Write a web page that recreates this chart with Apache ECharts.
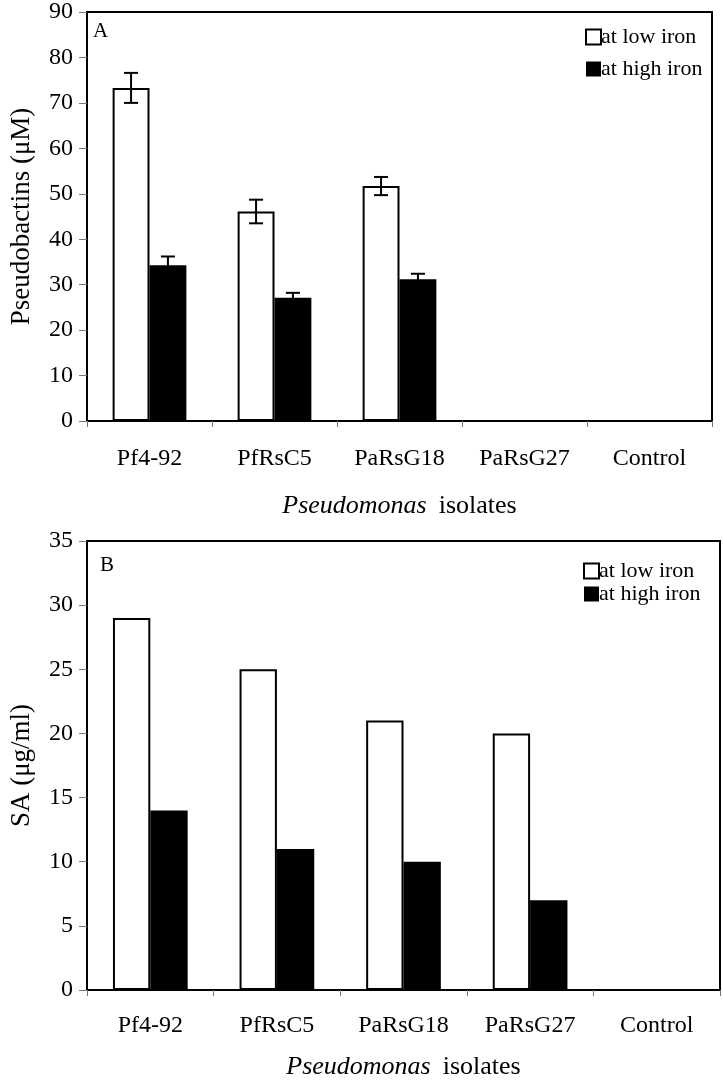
<!DOCTYPE html>
<html><head><meta charset="utf-8">
<script src="https://cdn.jsdelivr.net/npm/echarts@6/dist/echarts.min.js"></script>
<style>html,body{margin:0;padding:0;background:#fff}#c{width:723px;height:1081px}</style>
</head><body><div id="c"></div>
<script>
const categories = ['Pf4-92', 'PfRsC5', 'PaRsG18', 'PaRsG27', 'Control'];
const seriesNames = ['at low iron', 'at high iron'];
// Panel A: Pseudobactins (µM)
const pbLow = [73.3, 46.1, 51.7, 0, 0];
const pbLowErr = [3.3, 2.6, 2.0, 0, 0];
const pbHigh = [34.3, 27.1, 31.2, 0, 0];
const pbHighErr = [1.9, 1.1, 1.2, 0, 0];
// Panel B: SA (µg/ml)
const saLow = [29, 25, 21, 20, 0];
const saHigh = [14, 11, 10, 7, 0];

const FONT = '"Liberation Serif", "Times New Roman", serif';
const BARW = 0.295;

const chart = echarts.init(document.getElementById('c'), null, {renderer: 'canvas'});

function errSeries(vals, errs, xi, yi, side) {
  return {
    type: 'custom', xAxisIndex: xi, yAxisIndex: yi, z: 10, silent: true,
    data: vals.map((v, i) => [i, v, errs[i]]),
    renderItem: function (params, api) {
      const i = api.value(0), v = api.value(1), e = api.value(2);
      if (!e) return null;
      const cw = api.size([1, 0])[0];
      const off = side * cw * BARW / 2;
      const top = api.coord([i, v + e]);
      const bot = api.coord([i, v - e]);
      const x = top[0] + off;
      const cap = 7;
      const st = {stroke: '#000', lineWidth: 2};
      return {type: 'group', children: [
        {type: 'line', shape: {x1: x, y1: top[1], x2: x, y2: bot[1]}, style: st},
        {type: 'line', shape: {x1: x - cap, y1: top[1], x2: x + cap, y2: top[1]}, style: st},
        {type: 'line', shape: {x1: x - cap, y1: bot[1], x2: x + cap, y2: bot[1]}, style: st}
      ]};
    }
  };
}

function xAx(gi, margin, gap) {
  return {
    type: 'category', gridIndex: gi, data: categories,
    axisLine: {lineStyle: {color: '#000', width: 2}},
    axisTick: {show: true, length: 6, lineStyle: {color: '#777', width: 1}},
    axisLabel: {color: '#000', fontFamily: FONT, fontSize: 24, margin: margin},
    name: '{i|Pseudomonas}{s| }{n|isolates}',
    nameLocation: 'middle', nameGap: gap,
    nameTextStyle: {rich: {
      i: {fontFamily: FONT, fontSize: 26, fontStyle: 'italic', color: '#000'},
      s: {fontFamily: FONT, fontSize: 26, width: 12},
      n: {fontFamily: FONT, fontSize: 26, color: '#000'}
    }}
  };
}
function yAx(gi, max, interval, name) {
  return {
    type: 'value', gridIndex: gi, min: 0, max: max, interval: interval,
    splitLine: {show: false},
    axisLine: {show: true, lineStyle: {color: '#000', width: 2}},
    axisTick: {show: true, length: 8, lineStyle: {color: '#777', width: 1}},
    axisLabel: {color: '#000', fontFamily: FONT, fontSize: 24, margin: 14},
    name: name, nameLocation: 'middle', nameGap: 52,
    nameTextStyle: {fontFamily: FONT, fontSize: 27, color: '#000'}
  };
}

const lowStyle = {color: '#fff', borderColor: '#000', borderWidth: 2};
const highStyle = {color: '#000', borderColor: '#000', borderWidth: 0};

chart.setOption({
  animation: false,
  backgroundColor: '#fff',
  grid: [
    {left: 84, right: 11, top: 12, height: 409, show: true, borderColor: '#000', borderWidth: 2, backgroundColor: 'transparent'},
    {left: 87, right: 3, top: 541, height: 453, show: true, borderColor: '#000', borderWidth: 2, backgroundColor: 'transparent'}
  ],
  legend: [
    {orient: 'vertical', left: 580, top: 21, itemWidth: 15, itemHeight: 15, itemGap: 10, icon: 'rect',
     textStyle: {fontFamily: FONT, fontSize: 22, color: '#000', padding: [0, 0, 0, -5]}, data: seriesNames},
    {orient: 'vertical', left: 578, top: 555, itemWidth: 15, itemHeight: 15, itemGap: 1, icon: 'rect',
     textStyle: {fontFamily: FONT, fontSize: 22, color: '#000', padding: [0, 0, 0, -5]}, data: seriesNames}
  ],
  graphic: [
    {type: 'text', left: 93, top: 21, style: {text: 'A', font: '21px ' + FONT, fill: '#000'}},
    {type: 'text', left: 100, top: 555, style: {text: 'B', font: '21px ' + FONT, fill: '#000'}}
  ],
  xAxis: [xAx(0, 26, 72), xAx(1, 24, 64)],
  yAxis: [yAx(0, 90, 10, 'Pseudobactins (μM)'), yAx(1, 35, 5, 'SA (μg/ml)')],
  series: [
    {name: seriesNames[0], type: 'bar', xAxisIndex: 0, yAxisIndex: 0, data: pbLow, barWidth: (BARW * 100) + '%', barGap: '0%', itemStyle: lowStyle},
    {name: seriesNames[1], type: 'bar', xAxisIndex: 0, yAxisIndex: 0, data: pbHigh, barWidth: (BARW * 100) + '%', barGap: '0%', itemStyle: highStyle},
    errSeries(pbLow, pbLowErr, 0, 0, -1),
    errSeries(pbHigh, pbHighErr, 0, 0, 1),
    {name: seriesNames[0], type: 'bar', xAxisIndex: 1, yAxisIndex: 1, data: saLow, barWidth: (BARW * 100) + '%', barGap: '0%', itemStyle: lowStyle},
    {name: seriesNames[1], type: 'bar', xAxisIndex: 1, yAxisIndex: 1, data: saHigh, barWidth: (BARW * 100) + '%', barGap: '0%', itemStyle: highStyle}
  ]
});
</script></body></html>
